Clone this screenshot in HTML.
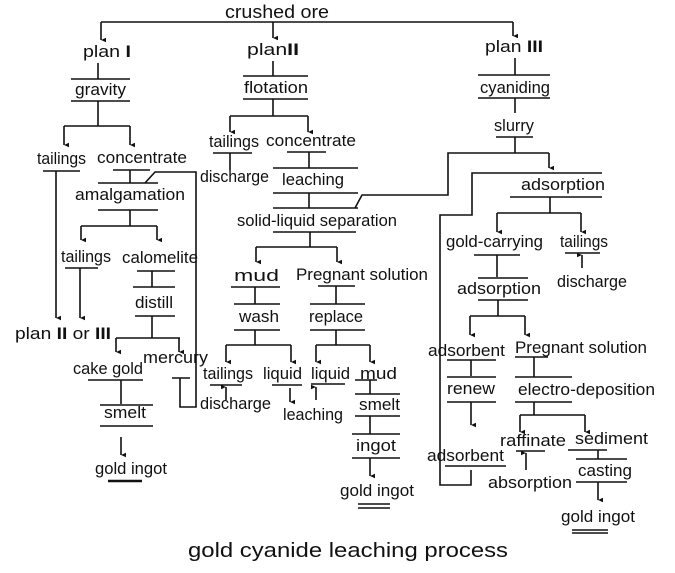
<!DOCTYPE html>
<html><head><meta charset="utf-8"><style>
html,body{margin:0;padding:0;background:#fff;}
svg{display:block;}
text{font-family:"Liberation Sans",sans-serif;font-size:17px;fill:#111;}
.t{font-size:17px;}
</style></head><body>
<svg width="675" height="573" viewBox="0 0 675 573" xmlns="http://www.w3.org/2000/svg">
<defs><marker id="a" markerWidth="6" markerHeight="6" refX="3" refY="5" orient="auto-start-reverse" markerUnits="userSpaceOnUse"><path d="M0.8,0 L3,5 L5.2,0 Z" fill="#111"/></marker></defs>
<g stroke="#111" stroke-width="1.6" fill="none">
<path d="M101,22 H513"/>
<path d="M101,22 V40" marker-end="url(#a)"/><path d="M273,22 V38" marker-end="url(#a)"/><path d="M513,22 V36" marker-end="url(#a)"/>
<path d="M98,63 V79"/><path d="M71,79 H130 M71,101 H130"/>
<path d="M98,101 V126 M64,126 H130"/><path d="M64,126 V145" marker-end="url(#a)"/><path d="M130,126 V145" marker-end="url(#a)"/>
<path d="M43,171 H80 M113,170 H150 M130,170 V183 M98,183 H158 M98,210 H158"/>
<path d="M145,183 L155,172 H196 V407 H180 V378 M172,378 H190"/>
<path d="M130,210 V226 M81,226 H157"/><path d="M81,226 V240" marker-end="url(#a)"/><path d="M157,226 V240" marker-end="url(#a)"/>
<path d="M65,268 H98 M137,271 H175 M152,271 V287 M133,287 H175 M135,316 H175"/>
<path d="M56,171 V318" marker-end="url(#a)"/><path d="M80,268 V318" marker-end="url(#a)"/>
<path d="M152,316 V338 M116,338 H180"/><path d="M116,338 V352" marker-end="url(#a)"/><path d="M179,338 V352" marker-end="url(#a)"/>
<path d="M88,380 H143 M121,380 V404 M100,405 H153 M100,426 H153"/>
<path d="M121,437 V455" marker-end="url(#a)"/>
<path d="M108,481 H142" stroke-width="2.6"/>
<path d="M273,61 V76 M243,76 H308 M243,99 H308 M273,99 V116 M230,116 H308"/>
<path d="M230,116 V132" marker-end="url(#a)"/><path d="M308,116 V132" marker-end="url(#a)"/>
<path d="M213,153 H252 M230,153 V170"/>
<path d="M287,152 H326 M309,152 V168 M273,168 H358 M273,193 H358 M309,193 V208 M273,208 H358 M273,232 H356"/>
<path d="M355,208 L362,195 H448 V153 H549"/><path d="M549,153 V168" marker-end="url(#a)"/><path d="M515,137 V153"/>
<path d="M310,232 V247 M256,247 H337"/><path d="M256,247 V262" marker-end="url(#a)"/><path d="M337,247 V262" marker-end="url(#a)"/>
<path d="M231,287 H280 M255,287 V304 M234,304 H280 M234,330 H280 M255,330 V345 M226,345 H291"/>
<path d="M226,345 V362" marker-end="url(#a)"/><path d="M291,345 V362" marker-end="url(#a)"/>
<path d="M318,286 H355 M336,286 V304 M310,304 H365 M310,330 H365 M336,330 V345 M316,345 H370"/>
<path d="M316,345 V362" marker-end="url(#a)"/><path d="M370,345 V362" marker-end="url(#a)"/>
<path d="M210,385 H242"/><path d="M226,400 V387" marker-end="url(#a)"/>
<path d="M272,385 H302"/><path d="M290,388 V402" marker-end="url(#a)"/>
<path d="M311,384 H345"/><path d="M316,400 V387" marker-end="url(#a)"/>
<path d="M355,380 H377 M370,380 V394 M355,394 H400 M355,416 H400 M370,416 V434 M352,434 H400 M352,458 H400"/>
<path d="M370,458 V476" marker-end="url(#a)"/>
<path d="M358,504 H390 M358,508 H390"/>
<path d="M515,58 V75 M478,75 H550 M478,98 H550 M515,98 V113 M496,137 H533"/>
<path d="M602,173 H510 H472 V215 H440 V485 H471 V470"/>
<path d="M510,197 H602 M550,197 V213 M497,213 H581"/><path d="M497,213 V232" marker-end="url(#a)"/><path d="M581,213 V232" marker-end="url(#a)"/>
<path d="M474,255 H520 M497,255 V277 M478,278 H528 M478,300 H528 M498,300 V316 M470,316 H525"/>
<path d="M470,316 V335" marker-end="url(#a)"/><path d="M525,316 V335" marker-end="url(#a)"/>
<path d="M565,253 H600"/><path d="M582,268 V255" marker-end="url(#a)"/>
<path d="M447,360 H496 M471,360 V376 M447,377 H496 M447,402 H496"/><path d="M471,402 V425" marker-end="url(#a)"/>
<path d="M515,357 H548 M515,377 H572 M515,402 H572 M534,357 V377 M534,402 V415 M520,415 H585"/>
<path d="M520,415 V432" marker-end="url(#a)"/><path d="M585,415 V432" marker-end="url(#a)"/>
<path d="M516,451 H545"/><path d="M526,470 V453" marker-end="url(#a)"/>
<path d="M568,450 H607 M598,450 V459 M576,459 H627 M576,482 H627"/><path d="M598,482 V500" marker-end="url(#a)"/>
<path d="M572,530 H608 M572,533 H608"/>
<path d="M445,466 H506"/>
</g>
<g>
<text x="225" y="18" textLength="104" lengthAdjust="spacingAndGlyphs" style="font-size:18px">crushed ore</text>
<text x="83" y="57" textLength="48" lengthAdjust="spacingAndGlyphs">plan <tspan font-weight="bold">I</tspan></text>
<text x="247" y="55" textLength="52" lengthAdjust="spacingAndGlyphs">plan<tspan font-weight="bold">II</tspan></text>
<text x="485" y="52" textLength="58" lengthAdjust="spacingAndGlyphs">plan <tspan font-weight="bold">III</tspan></text>
<text x="75" y="95" textLength="51" lengthAdjust="spacingAndGlyphs">gravity</text>
<text x="244" y="93" textLength="64" lengthAdjust="spacingAndGlyphs">flotation</text>
<text x="480" y="93" textLength="70" lengthAdjust="spacingAndGlyphs">cyaniding</text>
<text x="37" y="164" textLength="49" lengthAdjust="spacingAndGlyphs">tailings</text>
<text x="97" y="163" textLength="90" lengthAdjust="spacingAndGlyphs">concentrate</text>
<text x="75" y="200" textLength="110" lengthAdjust="spacingAndGlyphs">amalgamation</text>
<text x="61" y="262" textLength="50" lengthAdjust="spacingAndGlyphs">tailings</text>
<text x="122" y="263" textLength="76" lengthAdjust="spacingAndGlyphs">calomelite</text>
<text x="135" y="308" textLength="38" lengthAdjust="spacingAndGlyphs">distill</text>
<text x="15" y="339" textLength="96" lengthAdjust="spacingAndGlyphs">plan <tspan font-weight="bold">II</tspan> or <tspan font-weight="bold">III</tspan></text>
<text x="73" y="374" textLength="70" lengthAdjust="spacingAndGlyphs">cake gold</text>
<text x="143" y="363" textLength="65" lengthAdjust="spacingAndGlyphs">mercury</text>
<text x="104" y="418" textLength="42" lengthAdjust="spacingAndGlyphs">smelt</text>
<text x="95" y="474" textLength="72" lengthAdjust="spacingAndGlyphs">gold ingot</text>
<text x="209" y="147" textLength="50" lengthAdjust="spacingAndGlyphs">tailings</text>
<text x="266" y="146" textLength="90" lengthAdjust="spacingAndGlyphs">concentrate</text>
<text x="200" y="182" textLength="69" lengthAdjust="spacingAndGlyphs">discharge</text>
<text x="282" y="185" textLength="62" lengthAdjust="spacingAndGlyphs">leaching</text>
<text x="237" y="226" textLength="160" lengthAdjust="spacingAndGlyphs">solid-liquid separation</text>
<text x="234" y="281" textLength="45" lengthAdjust="spacingAndGlyphs">mud</text>
<text x="296" y="280" textLength="132" lengthAdjust="spacingAndGlyphs">Pregnant solution</text>
<text x="239" y="322" textLength="40" lengthAdjust="spacingAndGlyphs">wash</text>
<text x="309" y="322" textLength="54" lengthAdjust="spacingAndGlyphs">replace</text>
<text x="203" y="379" textLength="50" lengthAdjust="spacingAndGlyphs">tailings</text>
<text x="263" y="379" textLength="39" lengthAdjust="spacingAndGlyphs">liquid</text>
<text x="311" y="379" textLength="39" lengthAdjust="spacingAndGlyphs">liquid</text>
<text x="360" y="379" textLength="37" lengthAdjust="spacingAndGlyphs">mud</text>
<text x="200" y="409" textLength="71" lengthAdjust="spacingAndGlyphs">discharge</text>
<text x="283" y="420" textLength="60" lengthAdjust="spacingAndGlyphs">leaching</text>
<text x="359" y="410" textLength="41" lengthAdjust="spacingAndGlyphs">smelt</text>
<text x="356" y="451" textLength="40" lengthAdjust="spacingAndGlyphs">ingot</text>
<text x="340" y="496" textLength="74" lengthAdjust="spacingAndGlyphs">gold ingot</text>
<text x="494" y="131" textLength="40" lengthAdjust="spacingAndGlyphs">slurry</text>
<text x="521" y="190" textLength="84" lengthAdjust="spacingAndGlyphs">adsorption</text>
<text x="446" y="247" textLength="97" lengthAdjust="spacingAndGlyphs">gold-carrying</text>
<text x="560" y="247" textLength="48" lengthAdjust="spacingAndGlyphs">tailings</text>
<text x="557" y="287" textLength="70" lengthAdjust="spacingAndGlyphs">discharge</text>
<text x="457" y="294" textLength="84" lengthAdjust="spacingAndGlyphs">adsorption</text>
<text x="428" y="356" textLength="77" lengthAdjust="spacingAndGlyphs">adsorbent</text>
<text x="515" y="353" textLength="132" lengthAdjust="spacingAndGlyphs">Pregnant solution</text>
<text x="447" y="394" textLength="48" lengthAdjust="spacingAndGlyphs">renew</text>
<text x="518" y="395" textLength="137" lengthAdjust="spacingAndGlyphs">electro-deposition</text>
<text x="500" y="446" textLength="66" lengthAdjust="spacingAndGlyphs">raffinate</text>
<text x="575" y="444" textLength="73" lengthAdjust="spacingAndGlyphs">sediment</text>
<text x="427" y="461" textLength="77" lengthAdjust="spacingAndGlyphs">adsorbent</text>
<text x="488" y="488" textLength="84" lengthAdjust="spacingAndGlyphs">absorption</text>
<text x="578" y="476" textLength="54" lengthAdjust="spacingAndGlyphs">casting</text>
<text x="561" y="522" textLength="74" lengthAdjust="spacingAndGlyphs">gold ingot</text>
<text x="188" y="557" textLength="320" lengthAdjust="spacingAndGlyphs" style="font-size:20px">gold cyanide leaching process</text>
</g>
</svg>
</body></html>
